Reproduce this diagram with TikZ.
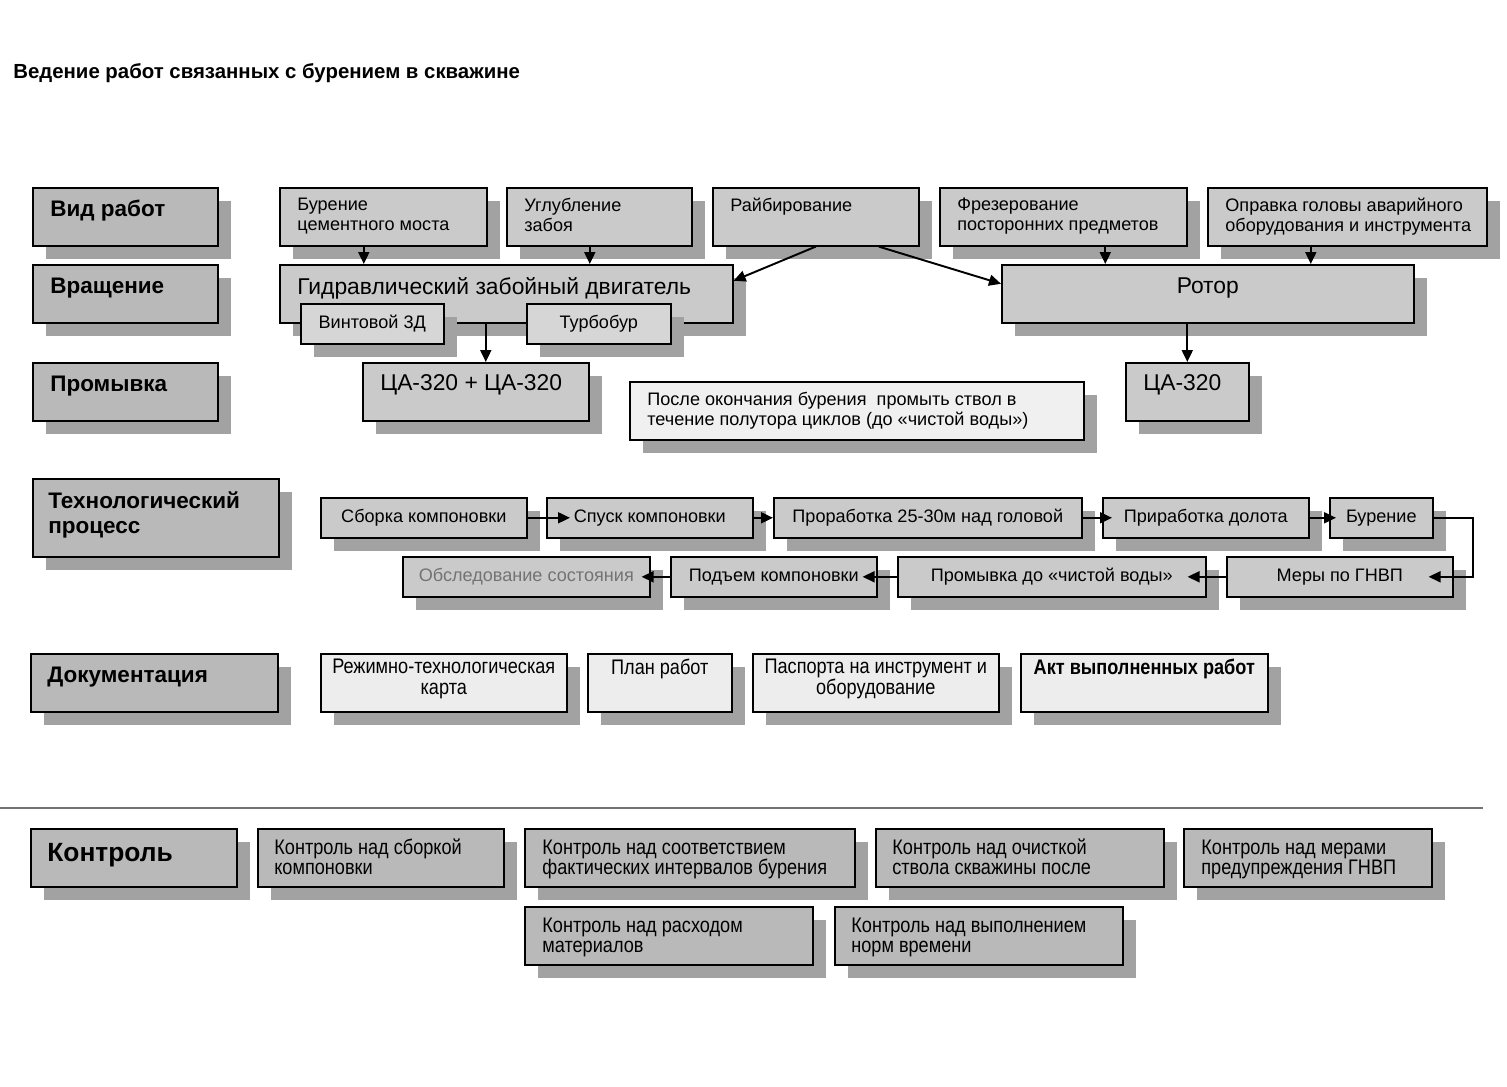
\documentclass[tikz,border=0pt]{standalone}
\usepackage{fontspec}
\setmainfont{Liberation Sans}
\newfontfamily\narrowfont{Liberation Sans}[FakeStretch=0.86]
\usetikzlibrary{arrows.meta,shadows,calc}
\definecolor{catgray}{HTML}{B9B9B9}
\definecolor{boxgray}{HTML}{CACACA}
\definecolor{subgray}{HTML}{D6D6D6}
\definecolor{lightbox}{HTML}{F0F0F0}
\definecolor{docfill}{HTML}{EDEDED}
\definecolor{shade}{HTML}{A2A2A2}
\begin{document}
\begin{tikzpicture}[
                        x=0.02cm, y=-0.02cm,
                        >={Triangle[length=0.24cm,width=0.22cm]},
                        box/.style={draw, line width=0.9pt, fill=#1,
                            drop shadow={shadow xshift=0.26cm, shadow yshift=-0.26cm, fill=shade, opacity=1}},
                        area/.style n args={4}{anchor=north west, at={(#1,#2)}, inner sep=0pt,
                            minimum width={(#3-#1)*0.02cm}, minimum height={(#4-#2)*0.02cm}},
                        lbl/.style 2 args={anchor=north west, inner sep=0pt, align=left,
                            xshift=#1*0.02cm, yshift=-#2*0.02cm},
                        toplbl/.style={anchor=north, inner sep=0pt, align=center, yshift=-#1*0.02cm},
                        cat/.style={font=\bfseries\fontsize{12.8}{14.7}\selectfont},
                        txt/.style={font=\fontsize{10.3}{11.4}\selectfont},
                        big/.style={font=\fontsize{13}{15}\selectfont},
                        doc/.style={font=\narrowfont\fontsize{12}{11.9}\selectfont},
                        ctl/.style={font=\narrowfont\fontsize{12}{11.4}\selectfont},
                        link/.style={->, line width=1.1pt}
                    ]
                    \useasboundingbox (0,0) rectangle (1507,1086);
                    \node[anchor=west, inner sep=0pt, font=\bfseries\fontsize{11.6}{13}\selectfont] (title) at (13,73) {Ведение работ связанных с бурением в скважине};

                    % Categories
                    \node[box=catgray, area={32}{187}{217}{245}, label={[lbl={18}{13}, cat]north west:Вид работ}] (vid) {};
                    \node[box=catgray, area={32}{264}{217}{322}, label={[lbl={18}{14}, cat]north west:Вращение}] (vrash) {};
                    \node[box=catgray, area={32}{362}{217}{420}, label={[lbl={18}{14}, cat]north west:Промывка}] (prom) {};
                    \node[box=catgray, area={32}{478}{278}{556}, label={[lbl={16}{13}, cat]north west:{Технологический\\процесс}}] (tech) {};
                    \node[box=catgray, area={30}{653}{277}{711}, label={[lbl={17}{14}, cat]north west:Документация}] (docs) {};
                    \node[box=catgray, area={30}{828}{236}{886}, label={[lbl={17}{15}, font=\bfseries\fontsize{15}{17}\selectfont]north west:Контроль}] (kontr) {};

                    % Blocks
                    \node[box=boxgray, area={279}{187}{486}{245}, label={[lbl={18}{11}, txt]north west:{Бурение\\цементного моста}}] (bur) {};
                    \node[box=boxgray, area={506}{187}{691}{245}, label={[lbl={18}{11}, txt]north west:{Углубление\\забоя}}] (ugl) {};
                    \node[box=boxgray, area={712}{187}{918}{245}, label={[lbl={18}{11}, txt]north west:Райбирование}] (rai) {};
                    \node[box=boxgray, area={939}{187}{1186}{245}, label={[lbl={18}{11}, txt]north west:{Фрезерование\\посторонних предметов}}] (frez) {};
                    \node[box=boxgray, area={1207}{187}{1486}{245}, label={[lbl={18}{11}, txt]north west:{Оправка головы аварийного\\оборудования и инструмента}}] (opr) {};
                    \node[box=boxgray, area={279}{264}{732}{322}, label={[lbl={18}{13}, big]north west:Гидравлический забойный двигатель}] (gidr) {};
                    \node[box=subgray, area={300}{303}{443}{343}, txt] (vint) {Винтовой 3Д};
                    \node[box=subgray, area={526}{303}{670}{343}, txt] (turb) {Турбобур};
                    \node[box=boxgray, area={1001}{264}{1413}{322}, label={[toplbl=13, big]north:Ротор}] (rotor) {};
                    \node[box=boxgray, area={362}{362}{588}{420}, label={[lbl={18}{12}, big]north west:ЦА-320 + ЦА-320}] (ca1) {};
                    \node[box=lightbox, area={629}{381}{1083}{439}, label={[lbl={18}{11}, txt]north west:{После окончания бурения\ \ промыть ствол в\\течение полутора циклов (до «чистой воды»)}}] (posle) {};
                    \node[box=boxgray, area={1125}{362}{1248}{420}, label={[lbl={18}{12}, big]north west:ЦА-320}] (ca2) {};

                    % Process
                    \node[box=boxgray, area={320}{497}{526}{537}, txt] (sb) {Сборка компоновки};
                    \node[box=boxgray, area={546}{497}{752}{537}, txt] (sp) {Спуск компоновки};
                    \node[box=boxgray, area={773}{497}{1081}{537}, txt] (pr) {Проработка 25-30м над головой};
                    \node[box=boxgray, area={1102}{497}{1308}{537}, txt] (pri) {Приработка долота};
                    \node[box=boxgray, area={1329}{497}{1432}{537}, txt] (bure) {Бурение};
                    \node[box=boxgray, area={402}{556}{649}{596}, txt, text=black!55] (obs) {Обследование состояния};
                    \node[box=boxgray, area={670}{556}{876}{596}, txt] (pod) {Подъем компоновки};
                    \node[box=boxgray, area={897}{556}{1205}{596}, txt] (promv) {Промывка до «чистой воды»};
                    \node[box=boxgray, area={1226}{556}{1452}{596}, txt] (mery) {Меры по ГНВП};

                    % Documents
                    \node[box=docfill, area={320}{653}{566}{711}, label={[toplbl=6, doc]north:{Режимно-технологическая\\карта}}] (rtk) {};
                    \node[box=docfill, area={587}{653}{731}{711}, label={[toplbl=6, doc]north:План работ}] (plan) {};
                    \node[box=docfill, area={752}{653}{998}{711}, label={[toplbl=6, doc]north:{Паспорта на инструмент и\\оборудование}}] (pasp) {};
                    \node[box=docfill, area={1020}{653}{1267}{711}, label={[toplbl=6, doc, font=\narrowfont\bfseries\fontsize{12}{11.9}\selectfont]north:Акт выполненных работ}] (akt) {};

                    % Control
                    \draw[black!55, line width=0.8pt] (0,808) -- (1483,808);
                    \node[box=catgray, area={257}{828}{503}{886}, label={[lbl={17}{10}, ctl]north west:{Контроль над сборкой\\компоновки}}] (k1) {};
                    \node[box=catgray, area={524}{828}{854}{886}, label={[lbl={18}{12}, ctl]north west:{Контроль над соответствием\\фактических интервалов бурения}}] (k2) {};
                    \node[box=catgray, area={875}{828}{1163}{886}, label={[lbl={17}{10}, ctl]north west:{Контроль над очисткой\\ствола скважины после}}] (k3) {};
                    \node[box=catgray, area={1183}{828}{1431}{886}, label={[lbl={18}{12}, ctl]north west:{Контроль над мерами\\предупреждения ГНВП}}] (k4) {};
                    \node[box=catgray, area={524}{906}{812}{964}, label={[lbl={18}{12}, ctl]north west:{Контроль над расходом\\материалов}}] (k5) {};
                    \node[box=catgray, area={834}{906}{1122}{964}, label={[lbl={17}{12}, ctl]north west:{Контроль над выполнением\\норм времени}}] (k6) {};

                    % Connections
                    \draw[link] ([xshift=-0.39cm]bur.south) -- ([xshift=-0.39cm]bur.south |- gidr.north);
                    \draw[link] ([xshift=-0.19cm]ugl.south) -- ([xshift=-0.19cm]ugl.south |- gidr.north);
                    \draw[link] ([xshift=0.84cm]frez.south) -- ([xshift=0.84cm]frez.south |- rotor.north);
                    \draw[link] ([xshift=-0.73cm]opr.south) -- ([xshift=-0.73cm]opr.south |- rotor.north);
                    \draw[link] (rai.south) -- ([yshift=0.26cm]gidr.east);
                    \draw[link] ([xshift=1.26cm]rai.south) -- ([yshift=0.2cm]rotor.west);
                    \draw[link] ([xshift=0.2cm]ca1.north |- gidr.south) -- ([xshift=0.2cm]ca1.north);
                    \draw[link] (ca2.north |- rotor.south) -- (ca2.north);
                    \draw[link] (sb.east) -- ([xshift=0.48cm]sp.west);
                    \draw[link] (sp.east) -- (pr.west);
                    \draw[link] (pr.east) -- ([xshift=0.2cm]pri.west);
                    \draw[link] (pri.east) -- ([xshift=0.14cm]bure.west);
                    \draw[link] (bure.east) -- ++(39,0) |- ([xshift=-0.5cm]mery.east);
                    \draw[link] (mery.west) -- ([xshift=-0.38cm]promv.east);
                    \draw[link] (promv.west) -- ([xshift=-0.3cm]pod.east);
                    \draw[link] (pod.west) -- ([xshift=-0.18cm]obs.east);
                \end{tikzpicture}
\end{document}
